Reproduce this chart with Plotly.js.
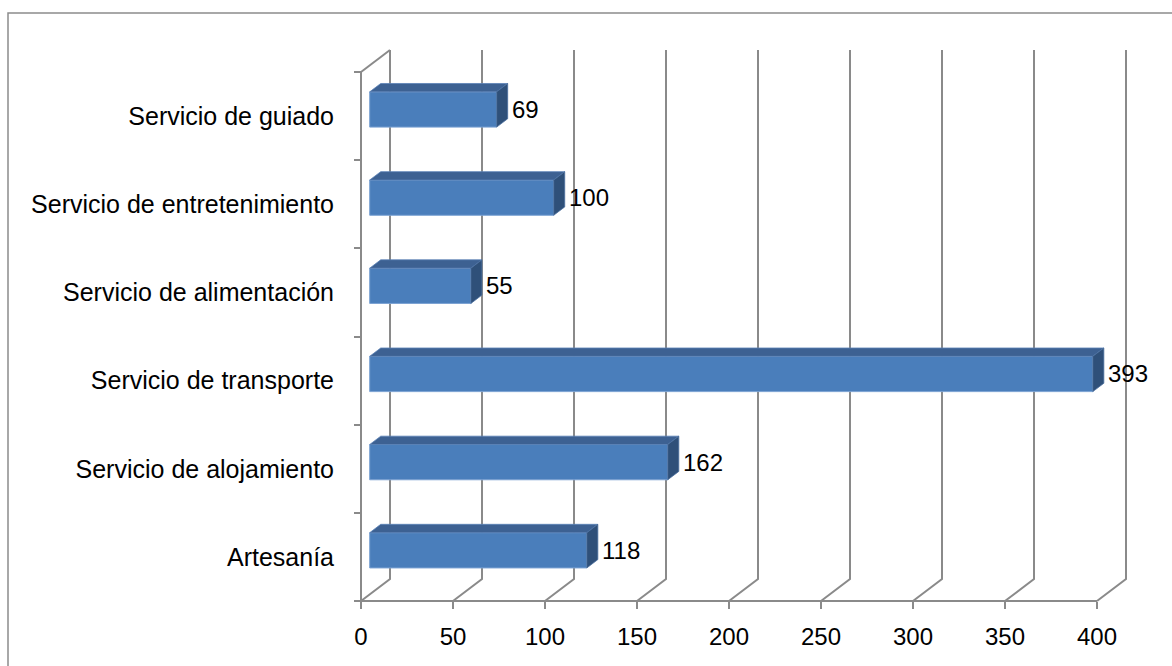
<!DOCTYPE html>
<html>
<head>
<meta charset="utf-8">
<script src="https://cdn.plot.ly/plotly-3.0.1.min.js"></script>
<style>
html,body{margin:0;padding:0;background:#fff;overflow:hidden;}
#chart{width:1172px;height:666px;}
</style>
</head>
<body>
<div id="chart"></div>
<script>
// ---- data ----
const categories = ['Artesanía', 'Servicio de alojamiento', 'Servicio de transporte', 'Servicio de alimentación', 'Servicio de entretenimiento', 'Servicio de guiado'];
const values = [118, 162, 393, 55, 100, 69];
const xTicks = [0, 50, 100, 150, 200, 250, 300, 350, 400];

// ---- geometry (pixels) ----
const W = 1172, H = 666;
const S = 1.84;      // px per value unit
const X0 = 361;      // px of value 0 on the front plane
const Y0 = 601;      // px of the front floor
const U = 88.17;     // px per category
const DXpx = 29, DYpx = 22; // depth offset of the back wall
const PAD = 3;
const DX = DXpx / S, DY = DYpx / U;
const nCat = categories.length;
const xMaxTick = xTicks[xTicks.length - 1];

const xmin = -PAD / S, xmax = xMaxTick + DX + PAD / S;
const ymin = -PAD / U, ymax = nCat + DY + PAD / U;
const l = X0 - PAD;
const plotW = (xmax - xmin) * S;
const r = W - l - plotW;
const b = H - (Y0 + PAD);
const plotH = (ymax - ymin) * U;
const t = H - b - plotH;

const grey = '#8a8a8a';
const gw = 2;

// bar depth placement
const f1 = 0.3, f2 = 0.68, bh = 0.4;
const P = (x, y, f) => [x + f * DX, y + f * DY];

// ---- shapes: walls, gridlines, axes ----
const shapes = [];
const line = (pts) => ({
  type: 'path', xref: 'x', yref: 'y', layer: 'below',
  path: 'M ' + pts.map(p => p[0] + ',' + p[1]).join(' L '),
  line: {color: grey, width: gw}
});
xTicks.forEach(v => {
  shapes.push(line([[v, 0], [v + DX, DY], [v + DX, nCat + DY]]));
});
shapes.push(line([[0, 0], [xMaxTick, 0]]));
shapes.push(line([[0, 0], [0, nCat]]));
shapes.push(line([[0, nCat], [DX, nCat + DY]]));
// outer chart border (paper coords)
const px2paperX = px => (px - l) / plotW;
const px2paperY = py => (H - b - py) / plotH;
shapes.push({type: 'rect', xref: 'paper', yref: 'paper', layer: 'below',
  x0: px2paperX(8), x1: px2paperX(W + 20), y0: px2paperY(H + 20), y1: px2paperY(13),
  line: {color: '#8c8c8c', width: 1.5}, fillcolor: 'rgba(0,0,0,0)'});

// ---- traces ----
const centers = categories.map((c, i) => i + 0.5);
const front = {
  type: 'bar', orientation: 'h',
  x: values, y: centers.map(c => c + f1 * DY),
  base: values.map(() => f1 * DX), width: bh,
  marker: {color: '#4a7ebb', line: {color: '#7ba2d3', width: 1}},
  hoverinfo: 'none', showlegend: false
};
const topX = [], topY = [], sideX = [], sideY = [];
values.forEach((v, i) => {
  const c = centers[i];
  const tpts = [P(0, c + bh / 2, f1), P(v, c + bh / 2, f1), P(v, c + bh / 2, f2), P(0, c + bh / 2, f2), P(0, c + bh / 2, f1)];
  tpts.forEach(p => { topX.push(p[0]); topY.push(p[1]); });
  topX.push(null); topY.push(null);
  const spts = [P(v, c - bh / 2, f1), P(v, c + bh / 2, f1), P(v, c + bh / 2, f2), P(v, c - bh / 2, f2), P(v, c - bh / 2, f1)];
  spts.forEach(p => { sideX.push(p[0]); sideY.push(p[1]); });
  sideX.push(null); sideY.push(null);
});
const topFace = {type: 'scatter', mode: 'lines', x: topX, y: topY, fill: 'toself',
  fillcolor: '#3d6192', line: {color: '#5a82b6', width: 0.8}, hoverinfo: 'none', showlegend: false};
const sideFace = {type: 'scatter', mode: 'lines', x: sideX, y: sideY, fill: 'toself',
  fillcolor: '#2f5079', line: {color: '#4a6f9e', width: 0.8}, hoverinfo: 'none', showlegend: false};

const font = {family: '"Liberation Sans", Arial, sans-serif', size: 24, color: '#000'};
const catFont = {family: '"Liberation Sans", Arial, sans-serif', size: 25, color: '#000'};

const annotations = values.map((v, i) => ({
  x: v + f2 * DX, y: centers[i] + f1 * DY, xref: 'x', yref: 'y',
  text: String(v), showarrow: false, xanchor: 'left', yanchor: 'middle', xshift: 2,
  font: font
}));

const layout = {
  width: W, height: H,
  margin: {l: l, r: r, t: t, b: b, pad: 0},
  paper_bgcolor: '#fff', plot_bgcolor: 'rgba(0,0,0,0)',
  font: font,
  showlegend: false,
  xaxis: {
    range: [xmin, xmax], anchor: 'free', position: (0 - ymin) / (ymax - ymin),
    tickmode: 'array', tickvals: xTicks, ticktext: xTicks.map(String),
    ticks: 'outside', ticklen: 7, tickwidth: gw, tickcolor: grey,
    showgrid: false, zeroline: false, showline: false,
    ticklabelstandoff: 7, tickfont: font, fixedrange: true
  },
  yaxis: {
    range: [ymin, ymax], anchor: 'free', position: (0 - xmin) / (xmax - xmin),
    tickmode: 'array', tickvals: centers, ticktext: categories,
    ticks: '', showgrid: false, zeroline: false, showline: false,
    minor: {tickmode: 'array', tickvals: categories.map((c, i) => i).concat([nCat]),
      ticks: 'outside', ticklen: 7, tickwidth: gw, tickcolor: grey, showgrid: false},
    ticklabelstandoff: 27, tickfont: catFont, fixedrange: true
  },
  shapes: shapes,
  annotations: annotations,
  bargap: 0
};

Plotly.newPlot('chart', [front, topFace, sideFace], layout, {staticPlot: true, displayModeBar: false});
</script>
</body>
</html>
